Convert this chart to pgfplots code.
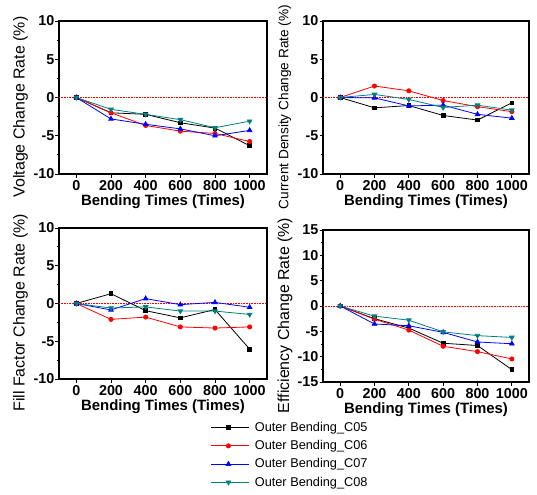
\documentclass[border=0pt]{standalone}
\usepackage{fontspec}
\setmainfont{Liberation Sans}
\usepackage{pgfplots}
\pgfplotsset{compat=1.18}
\definecolor{cFive}{HTML}{000000}
\definecolor{cSix}{HTML}{FF0000}
\definecolor{cSeven}{HTML}{0000FF}
\definecolor{cEight}{HTML}{008080}

\pgfplotsset{
  panel/.style={
    scale only axis, width=208bp, height=153bp,
    xmin=-100, xmax=1100, xtick={0,200,...,1000},
    axis line style={line width=1.1bp},
    tick style={line width=0.8bp, black},
    tick align=outside, major tick length=3.5bp, minor tick length=2bp,
    minor y tick num=1,
    xtick pos=bottom, ytick pos=left,
    /pgf/number format/assume math mode=true,
    /pgf/number format/1000 sep={},
    ticklabel style={font=\bfseries\fontsize{14.4}{14.4}\selectfont},
    xticklabel style={inner sep=1bp, yshift=-1.5bp},
    yticklabel style={inner sep=1bp},
    xlabel={Bending Times (Times)},
    xlabel style={font=\bfseries\fontsize{15}{15}\selectfont,
      at={(axis description cs:0.5,0)}, anchor=north, inner sep=0pt, yshift=-20bp},
    ylabel style={font=\fontsize{16}{16}\selectfont,
      at={(axis description cs:-0.185,0.438)}, anchor=center},
  },
  leg/.style={legend image code/.code={
    \path (0bp,0bp) -- (38bp,0bp);
    \draw[##1, mark=none, draw opacity=0.5] (0bp,0bp) -- (34bp,0bp);
    \draw[##1, only marks] plot coordinates {(17bp,0bp)};}},
  sC05/.style={leg, cFive, line width=0.8bp, mark=square*, mark size=1.8bp, mark options={solid}},
  sC06/.style={leg, cSix, line width=0.8bp, mark=*, mark size=2.1bp, mark options={solid}},
  sC07/.style={leg, cSeven, line width=0.8bp, mark=triangle*, mark size=2.6bp, mark options={solid}},
  sC08/.style={leg, cEight, line width=0.8bp, mark=triangle*, mark size=2.6bp, mark options={solid, rotate=180}},
  zeroline/.style={cSix, densely dotted, line width=0.6bp, forget plot},
}

\begin{document}
\begin{tikzpicture}
\useasboundingbox (0,0) rectangle (537bp,-495bp);

% voltage
\begin{axis}[panel, at={(59bp,-174bp)}, anchor=south west,
  ymin=-10, ymax=10, ytick={-10,-5,0,5,10},
  ylabel={Voltage Change Rate (\%)}]
\addplot[zeroline] coordinates {(-100,0)(1100,0)};
\addplot[sC05] coordinates {(0,0)(200,-2.0)(400,-2.2)(600,-3.3)(800,-4.0)(1000,-6.3)};
\addplot[sC06] coordinates {(0,0)(200,-2.0)(400,-3.65)(600,-4.4)(800,-4.7)(1000,-5.75)};
\addplot[sC07] coordinates {(0,0)(200,-2.8)(400,-3.5)(600,-4.1)(800,-5.0)(1000,-4.3)};
\addplot[sC08] coordinates {(0,0)(200,-1.55)(400,-2.2)(600,-2.9)(800,-3.95)(1000,-3.1)};
\end{axis}

% current density
\begin{axis}[panel, at={(323bp,-174bp)}, anchor=south west, width=206bp,
  ymin=-10, ymax=10, ytick={-10,-5,0,5,10},
  ylabel={Current Density Change Rate (\%)},
  ylabel style={font=\fontsize{13.7}{13.7}\selectfont}]
\addplot[zeroline] coordinates {(-100,0)(1100,0)};
\addplot[sC05] coordinates {(0,0)(200,-1.35)(400,-1.05)(600,-2.35)(800,-2.95)(1000,-0.7)};
\addplot[sC06] coordinates {(0,0)(200,1.5)(400,0.87)(600,-0.4)(800,-1.2)(1000,-1.85)};
\addplot[sC07] coordinates {(0,0)(200,-0.05)(400,-1.1)(600,-1.0)(800,-2.2)(1000,-2.7)};
\addplot[sC08] coordinates {(0,0)(200,0.4)(400,-0.25)(600,-1.3)(800,-1.0)(1000,-1.65)};
\end{axis}

% fill factor
\begin{axis}[panel, at={(59bp,-379bp)}, anchor=south west, height=151bp,
  ymin=-10, ymax=10, ytick={-10,-5,0,5,10},
  ylabel={Fill Factor Change Rate (\%)},
  legend style={at={(0.730,-0.272)}, anchor=north west, draw=none, fill=none,
    font=\fontsize{12.8}{14}\selectfont, row sep=3.5bp, inner sep=0pt,
    nodes={inner xsep=5bp}, cells={anchor=west}},
  legend cell align=left]
\addplot[zeroline] coordinates {(-100,0)(1100,0)};
\addplot[sC05] coordinates {(0,0)(200,1.3)(400,-0.95)(600,-1.9)(800,-0.8)(1000,-6.05)};
\addplot[sC06] coordinates {(0,0)(200,-2.1)(400,-1.8)(600,-3.1)(800,-3.25)(1000,-3.1)};
\addplot[sC07] coordinates {(0,0)(200,-0.85)(400,0.65)(600,-0.15)(800,0.15)(1000,-0.5)};
\addplot[sC08] coordinates {(0,0)(200,-0.6)(400,-0.45)(600,-1.0)(800,-1.0)(1000,-1.45)};
\legend{Outer Bending\_C05, Outer Bending\_C06, Outer Bending\_C07, Outer Bending\_C08}
\end{axis}

% efficiency
\begin{axis}[panel, at={(323bp,-382bp)}, anchor=south west, width=206bp, height=152bp,
  ymin=-15, ymax=15, ytick={-15,-10,-5,0,5,10,15},
  ylabel={Efficiency Change Rate (\%)}]
\addplot[zeroline] coordinates {(-100,0)(1100,0)};
\addplot[sC05] coordinates {(0,0)(200,-2.5)(400,-4.35)(600,-7.35)(800,-7.8)(1000,-12.55)};
\addplot[sC06] coordinates {(0,0)(200,-2.6)(400,-4.75)(600,-7.95)(800,-9.0)(1000,-10.45)};
\addplot[sC07] coordinates {(0,0)(200,-3.55)(400,-3.9)(600,-5.2)(800,-7.1)(1000,-7.45)};
\addplot[sC08] coordinates {(0,0)(200,-2.0)(400,-2.8)(600,-5.1)(800,-5.85)(1000,-6.2)};
\end{axis}
\end{tikzpicture}
\end{document}
